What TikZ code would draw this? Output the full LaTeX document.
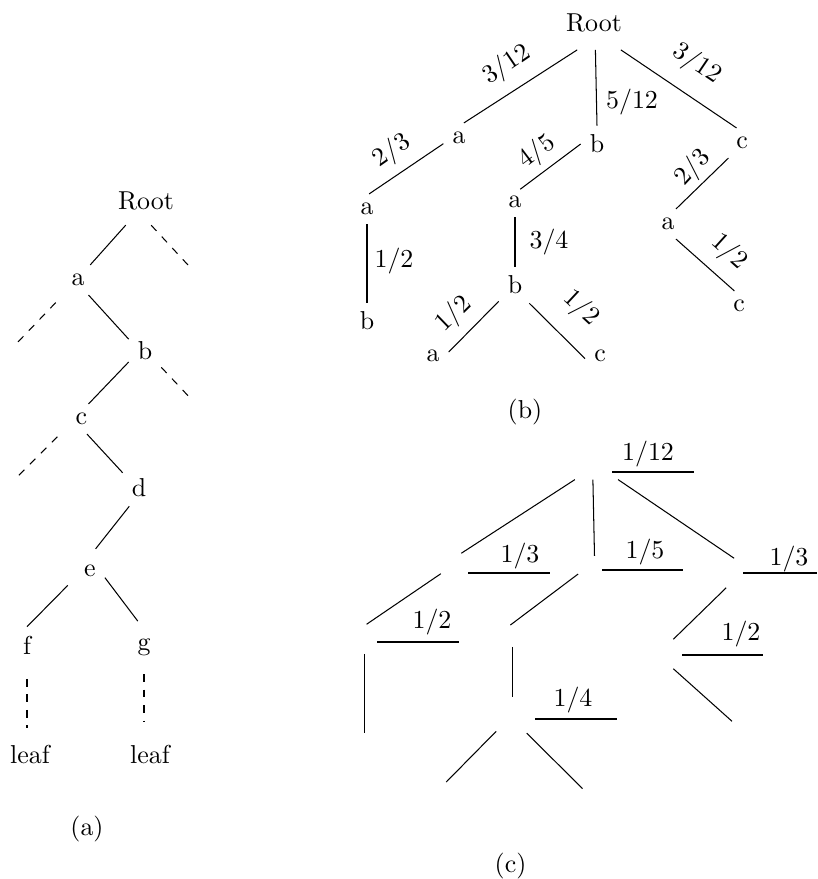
\documentclass[tikz,border=0pt]{standalone}
\usetikzlibrary{calc}
\tikzset{
  lab/.style={inner sep=3.33pt},
  rootA/.style={lab,inner ysep=5.6pt},
  rootB/.style={lab,inner ysep=6.65pt},
  ghost/.style 2 args={inner sep=0pt,minimum width=#1,minimum height=#2},
  ghA/.style={ghost={11.67pt}{10.98pt}},
  ghB/.style={ghost={12.23pt}{13.61pt}},
  ghC/.style={ghost={11.11pt}{10.98pt}},
  ghR/.style={ghost={27.92pt}{20.13pt}},
  dashline/.style={dashed},
  urule/.style={line width=0.8pt},
  wlab/.style={inner sep=0pt},
}
\begin{document}
\begin{tikzpicture}[x=0.386pt,y=-0.386pt]
\useasboundingbox (0,0) rectangle (817,879);

% ---------------- (a) ----------------
\node[rootA] (rA) at (146,201) {Root};
\node[lab] (aA) at (78,280) {a};
\node[lab] (bA) at (145,351) {b};
\node[lab] (cA) at (81.5,419) {c};
\node[lab] (dA) at (139,488) {d};
\node[lab] (eA) at (90,571) {e};
\node[lab] (fA) at (27,645) {f};
\node[lab] (gA) at (144,647) {g};
\node[lab] (l1) at (30,755) {leaf};
\node[lab] (l2) at (150,755) {leaf};
\node (capA) at (87,829) {(a)};
\coordinate (dr) at (188,265);
\coordinate (da) at (17,343);
\coordinate (db) at (193,401);
\coordinate (dc) at (15,479);

\draw (rA.-130) -- (aA.51);
\draw (aA.-55) -- (bA.144);
\draw (bA.-146) -- (cA.65);
\draw (cA.-70) -- (dA.137);
\draw[shorten >=3.5pt] (dA.-118) -- (eA.north);
\draw[shorten <=4pt] (eA.-155) -- (fA.north);
\draw[shorten >=4pt] (eA.-24) -- (gA.north);
\draw[dashline] (rA.-78) -- (dr);
\draw[dashline,shorten <=4pt] (aA.-135) -- (da);
\draw[dashline] (bA.-45) -- (db);
\draw[dashline,shorten <=5pt] (cA.-150) -- (dc);
\draw[dashline,shorten <=6pt,shorten >=3.5pt] (fA.south) -- (fA.south |- l1.north);
\draw[dashline,shorten <=3.6pt,shorten >=5.5pt] (gA.south) -- (gA.south |- l2.north);

% ---------------- (b) ----------------
\node[rootB] (rB) at (594,23) {Root};
\node[lab] (aB1) at (459,138) {a};
\node[lab] (bB1) at (597,144) {b};
\node[lab] (cB1) at (742,143) {c};
\node[lab] (aB2) at (367,209) {a};
\node[lab] (bB2) at (367,321) {b};
\node[lab] (aB3) at (515,202) {a};
\node[lab] (bB3) at (515,285) {b};
\node[lab] (aB4) at (433,356) {a};
\node[lab] (cB4) at (600,356) {c};
\node[lab] (aB5) at (668,224) {a};
\node[lab] (cB5) at (739,306) {c};
\node (capB) at (525,412) {(b)};

\draw (rB.-122) -- (aB1.72);
\draw (rB.-87) -- (bB1.north);
\draw (rB.-45) -- (cB1.110);
\draw (aB1.200) -- (aB2.82);
\draw (aB2.south) -- (bB2.north);
\draw[shorten >=-1.5pt] (bB1.west) -- (aB3.61);
\draw (aB3.south) -- (bB3.north);
\draw (bB3.-135) -- (aB4.14);
\draw (bB3.-52) -- (cB4.190);
\draw (cB1.-132) -- (aB5.62);
\draw (aB5.-62) -- (cB5.107);

\node[wlab,rotate=34] (w1) at (507,65) {3/12};
\node[wlab] (w2) at (632,102) {5/12};
\node[wlab,rotate=-34] (w3) at (697,64) {3/12};
\node[wlab,rotate=35] (w4) at (392,151) {2/3};
\node[wlab,rotate=37] (w5) at (537,152) {4/5};
\node[wlab,rotate=47] (w6) at (693,168) {2/3};
\node[wlab] (w7) at (394,261) {1/2};
\node[wlab] (w8) at (549,242) {3/4};
\node[wlab,rotate=44] (w9) at (454,314) {1/2};
\node[wlab,rotate=-43] (w10) at (581,308) {1/2};
\node[wlab,rotate=-42] (w11) at (729,252) {1/2};

% ---------------- (c) ----------------
\begin{scope}[shift={(-2.5,430)}]
\node[ghR] (rC) at (594,23) {};
\node[ghA] (aC1) at (459,138) {};
\node[ghB] (bC1) at (597,144) {};
\node[ghC] (cC1) at (742,143) {};
\node[ghA] (aC2) at (367,209) {};
\node[ghB] (bC2) at (367,321) {};
\node[ghA] (aC3) at (515,202) {};
\node[ghB] (bC3) at (515,285) {};
\node[ghA] (aC4) at (433,356) {};
\node[ghC] (cC4) at (600,356) {};
\node[ghA] (aC5) at (668,224) {};
\node[ghC] (cC5) at (739,306) {};
\end{scope}

\draw (rC.-122) -- (aC1.72);
\draw (rC.-87) -- (bC1.north);
\draw (rC.-45) -- (cC1.110);
\draw (aC1.200) -- (aC2.82);
\draw (aC2.south) -- (bC2.north);
\draw[shorten >=-5pt] (bC1.west) -- (aC3.61);
\draw (aC3.south) -- (bC3.north);
\draw (bC3.-135) -- (aC4.14);
\draw (bC3.-52) -- (cC4.190);
\draw (cC1.-132) -- (aC5.62);
\draw (aC5.-62) -- (cC5.107);

\node (u1) at (648,454) {1/12};
\draw[urule] (612,472) -- (694,472);
\node (u2) at (520,556) {1/3};
\draw[urule] (468,573) -- (550,573);
\node (u3) at (645,552) {1/5};
\draw[urule] (602,570) -- (683,570);
\node (u4) at (789,559) {1/3};
\draw[urule] (743,573) -- (817,573);
\node (u5) at (432,622) {1/2};
\draw[urule] (377,642) -- (459,642);
\node (u6) at (741,634) {1/2};
\draw[urule] (682,655) -- (763,655);
\node (u7) at (573,700) {1/4};
\draw[urule] (535,719) -- (617,719);
\node (capC) at (510.5,866) {(c)};
\end{tikzpicture}
\end{document}
